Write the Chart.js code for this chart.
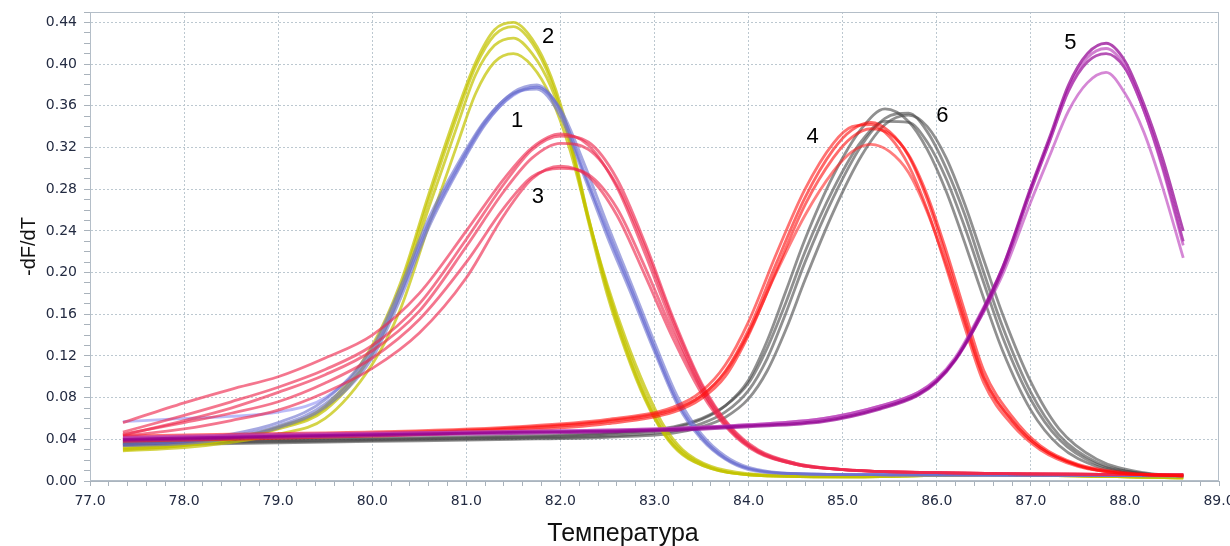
<!DOCTYPE html>
<html>
<head>
<meta charset="utf-8">
<title>-dF/dT</title>
<script src="https://cdn.jsdelivr.net/npm/chart.js@4.4.1/dist/chart.umd.min.js"></script>
<style>
  html, body { margin: 0; padding: 0; background: #fff; }
  #wrap { width: 1230px; height: 546px; }
</style>
</head>
<body>
<div id="wrap"><canvas id="meltChart" width="1230" height="546"></canvas></div>
<script>
// ----------- данные -----------
const xTitle = 'Температура';
const yTitle = '-dF/dT';

// подписи пиков 1..6
const peakNames = ['1', '2', '3', '4', '5', '6'];
const peakNameT = [81.54, 81.87, 81.76, 84.68, 87.42, 86.06];
const peakNameV = [0.345, 0.426, 0.273, 0.330, 0.420, 0.350];

// группа 2 (жёлтая)
const tempYellow = [77.35, 78.0, 78.5, 79.0, 79.5, 80.0, 80.3, 80.6, 80.9, 81.1, 81.3, 81.5, 81.7, 81.9, 82.1, 82.3, 82.5, 82.7, 82.9, 83.1, 83.3, 83.6, 84.0, 85.0, 86.5, 88.62];
const yellow1 = [0.032, 0.035, 0.041, 0.052, 0.072, 0.130, 0.190, 0.275, 0.355, 0.402, 0.433, 0.440, 0.424, 0.388, 0.330, 0.252, 0.182, 0.126, 0.080, 0.046, 0.026, 0.012, 0.006, 0.004, 0.006, 0.003];
const yellow2 = [0.030, 0.034, 0.040, 0.051, 0.070, 0.126, 0.186, 0.270, 0.350, 0.398, 0.428, 0.436, 0.420, 0.384, 0.326, 0.248, 0.178, 0.123, 0.078, 0.045, 0.025, 0.012, 0.006, 0.004, 0.006, 0.003];
const yellow3 = [0.031, 0.034, 0.040, 0.050, 0.068, 0.122, 0.180, 0.262, 0.340, 0.390, 0.418, 0.425, 0.410, 0.378, 0.325, 0.252, 0.185, 0.130, 0.084, 0.049, 0.028, 0.013, 0.006, 0.004, 0.006, 0.003];
const yellow4 = [0.029, 0.032, 0.037, 0.045, 0.060, 0.112, 0.165, 0.245, 0.322, 0.372, 0.402, 0.410, 0.398, 0.368, 0.318, 0.250, 0.188, 0.135, 0.090, 0.053, 0.030, 0.014, 0.007, 0.004, 0.006, 0.003];

// группа 1 (синяя)
const tempBlue = [77.35, 78.0, 78.5, 79.0, 79.5, 80.0, 80.3, 80.6, 80.9, 81.2, 81.5, 81.75, 82.0, 82.25, 82.5, 82.75, 83.0, 83.25, 83.5, 83.75, 84.0, 84.5, 85.5, 88.62];
const blue1 = [0.036, 0.038, 0.043, 0.053, 0.074, 0.122, 0.180, 0.248, 0.300, 0.345, 0.373, 0.380, 0.355, 0.296, 0.240, 0.185, 0.128, 0.075, 0.042, 0.022, 0.012, 0.007, 0.006, 0.005];
const blue2 = [0.034, 0.036, 0.041, 0.051, 0.071, 0.118, 0.175, 0.243, 0.296, 0.342, 0.371, 0.378, 0.357, 0.305, 0.246, 0.190, 0.133, 0.080, 0.045, 0.024, 0.013, 0.007, 0.006, 0.005];
const blue3 = [0.038, 0.040, 0.045, 0.056, 0.078, 0.128, 0.186, 0.252, 0.303, 0.346, 0.372, 0.376, 0.350, 0.293, 0.234, 0.180, 0.124, 0.072, 0.040, 0.021, 0.011, 0.007, 0.006, 0.005];
const blue4 = [0.057, 0.060, 0.062, 0.066, 0.080, 0.124, 0.180, 0.246, 0.298, 0.343, 0.370, 0.378, 0.354, 0.298, 0.238, 0.184, 0.127, 0.075, 0.042, 0.022, 0.012, 0.007, 0.006, 0.005];

// группа 3 (розовая)
const tempPink = [77.35, 78.0, 78.5, 79.0, 79.5, 80.0, 80.5, 81.0, 81.4, 81.7, 82.0, 82.3, 82.6, 82.9, 83.2, 83.5, 83.8, 84.1, 84.5, 85.0, 86.0, 88.62];
const pink1 = [0.056, 0.075, 0.088, 0.100, 0.118, 0.140, 0.180, 0.240, 0.290, 0.320, 0.333, 0.322, 0.282, 0.218, 0.148, 0.088, 0.049, 0.028, 0.016, 0.011, 0.008, 0.006];
const pink2 = [0.047, 0.063, 0.076, 0.090, 0.107, 0.130, 0.170, 0.232, 0.285, 0.318, 0.331, 0.325, 0.290, 0.228, 0.156, 0.094, 0.053, 0.030, 0.017, 0.011, 0.008, 0.006];
const pink3 = [0.044, 0.058, 0.070, 0.085, 0.102, 0.125, 0.163, 0.225, 0.278, 0.310, 0.324, 0.318, 0.284, 0.224, 0.153, 0.092, 0.052, 0.029, 0.017, 0.011, 0.008, 0.006];
const pink4 = [0.043, 0.050, 0.058, 0.068, 0.085, 0.108, 0.142, 0.195, 0.255, 0.290, 0.302, 0.292, 0.255, 0.197, 0.136, 0.084, 0.048, 0.027, 0.016, 0.011, 0.008, 0.006];
const pink5 = [0.045, 0.056, 0.065, 0.076, 0.094, 0.118, 0.155, 0.210, 0.262, 0.292, 0.300, 0.294, 0.262, 0.205, 0.142, 0.088, 0.050, 0.028, 0.016, 0.011, 0.008, 0.006];

// группа 4 (красная)
const tempRed = [77.35, 78.5, 80.0, 81.5, 82.5, 83.2, 83.5, 83.75, 84.0, 84.3, 84.6, 84.9, 85.1, 85.3, 85.5, 85.7, 85.9, 86.1, 86.3, 86.5, 86.8, 87.1, 87.5, 88.0, 88.62];
const red1 = [0.040, 0.042, 0.045, 0.050, 0.057, 0.068, 0.082, 0.105, 0.145, 0.210, 0.272, 0.318, 0.337, 0.344, 0.335, 0.312, 0.270, 0.215, 0.155, 0.100, 0.058, 0.032, 0.015, 0.007, 0.005];
const red2 = [0.043, 0.045, 0.047, 0.052, 0.059, 0.071, 0.086, 0.111, 0.153, 0.219, 0.280, 0.324, 0.340, 0.342, 0.330, 0.303, 0.260, 0.205, 0.147, 0.094, 0.054, 0.030, 0.014, 0.007, 0.005];
const red3 = [0.038, 0.040, 0.043, 0.048, 0.055, 0.066, 0.079, 0.100, 0.140, 0.203, 0.265, 0.310, 0.330, 0.338, 0.333, 0.313, 0.274, 0.221, 0.162, 0.106, 0.062, 0.034, 0.016, 0.008, 0.005];
const red4 = [0.041, 0.043, 0.046, 0.051, 0.058, 0.069, 0.082, 0.104, 0.142, 0.201, 0.255, 0.297, 0.316, 0.323, 0.316, 0.296, 0.258, 0.208, 0.152, 0.099, 0.058, 0.032, 0.015, 0.007, 0.005];

// группа 6 (серая)
const tempGray = [77.35, 78.5, 80.0, 81.5, 82.5, 83.2, 83.5, 83.75, 84.0, 84.2, 84.4, 84.6, 84.9, 85.2, 85.45, 85.7, 85.9, 86.1, 86.3, 86.5, 86.7, 87.0, 87.3, 87.7, 88.2, 88.62];
const gray1 = [0.036, 0.038, 0.040, 0.042, 0.045, 0.051, 0.059, 0.072, 0.097, 0.135, 0.183, 0.232, 0.293, 0.338, 0.357, 0.345, 0.318, 0.278, 0.228, 0.175, 0.125, 0.068, 0.034, 0.014, 0.006, 0.005];
const gray2 = [0.035, 0.037, 0.039, 0.041, 0.043, 0.048, 0.055, 0.066, 0.087, 0.118, 0.162, 0.210, 0.272, 0.322, 0.348, 0.353, 0.335, 0.300, 0.255, 0.200, 0.148, 0.085, 0.044, 0.018, 0.007, 0.005];
const gray3 = [0.034, 0.036, 0.038, 0.040, 0.042, 0.046, 0.052, 0.061, 0.079, 0.106, 0.146, 0.193, 0.258, 0.312, 0.342, 0.351, 0.340, 0.310, 0.265, 0.212, 0.160, 0.095, 0.050, 0.021, 0.008, 0.005];
const gray4 = [0.037, 0.039, 0.041, 0.043, 0.046, 0.052, 0.060, 0.072, 0.094, 0.128, 0.172, 0.220, 0.280, 0.326, 0.345, 0.344, 0.325, 0.290, 0.243, 0.190, 0.138, 0.078, 0.040, 0.016, 0.007, 0.005];

// группа 5 (фиолетовая)
const tempPurple = [77.35, 79.0, 81.0, 83.0, 84.0, 84.8, 85.4, 85.8, 86.0, 86.2, 86.4, 86.7, 87.0, 87.2, 87.4, 87.6, 87.8, 88.0, 88.2, 88.4, 88.62];
const purple1 = [0.040, 0.043, 0.046, 0.049, 0.053, 0.058, 0.070, 0.083, 0.096, 0.117, 0.148, 0.205, 0.282, 0.330, 0.380, 0.410, 0.420, 0.403, 0.362, 0.310, 0.240];
const purple2 = [0.042, 0.045, 0.047, 0.050, 0.054, 0.060, 0.072, 0.085, 0.098, 0.119, 0.150, 0.205, 0.280, 0.327, 0.376, 0.406, 0.415, 0.398, 0.356, 0.300, 0.226];
const purple3 = [0.039, 0.042, 0.045, 0.048, 0.052, 0.057, 0.069, 0.082, 0.095, 0.116, 0.146, 0.202, 0.278, 0.326, 0.374, 0.402, 0.410, 0.396, 0.356, 0.302, 0.230];
const purple4 = [0.041, 0.044, 0.047, 0.050, 0.054, 0.060, 0.072, 0.085, 0.097, 0.117, 0.146, 0.198, 0.268, 0.312, 0.355, 0.382, 0.392, 0.372, 0.335, 0.282, 0.214];

// ----------- вспомогательные функции -----------
function curve(temps, values, color) {
    return {
        data: temps.map((t, i) => ({ x: t, y: values[i] })),
        borderColor: color,
        borderWidth: 2.8,
        pointRadius: 0,
        fill: false,
        cubicInterpolationMode: 'monotone'
    };
}

const isWhole = v => Math.abs(v - Math.round(v)) < 1e-6;
const isMajorY = v => Math.round(v * 100) % 4 === 0;

// рамка, номера пиков и подпись оси X
const extras = {
    id: 'extras',
    beforeDatasetsDraw(chart) {
        const { ctx, chartArea: a } = chart;
        ctx.save();
        ctx.strokeStyle = '#b4bec8';
        ctx.lineWidth = 1;
        ctx.strokeRect(a.left + 0.5, a.top + 0.5, a.right - a.left - 1, a.bottom - a.top - 1);
        ctx.restore();
    },
    afterDatasetsDraw(chart) {
        const { ctx, scales: { x, y } } = chart;
        ctx.save();
        ctx.fillStyle = '#000';
        ctx.textAlign = 'center';
        ctx.textBaseline = 'middle';
        ctx.font = '22px "Liberation Sans", Arial, sans-serif';
        peakNames.forEach((name, i) => {
            ctx.fillText(name, x.getPixelForValue(peakNameT[i]), y.getPixelForValue(peakNameV[i]));
        });
        ctx.font = '25px "Liberation Sans", Arial, sans-serif';
        ctx.fillStyle = '#111';
        ctx.fillText(xTitle, 623, 534);
        ctx.restore();
    }
};

// первый набор рисуется поверх остальных
const datasets = [
    curve(tempPurple, purple1, 'rgba(145,0,145,0.72)'),
    curve(tempPurple, purple2, 'rgba(185,60,185,0.65)'),
    curve(tempPurple, purple3, 'rgba(150,10,150,0.7)'),
    curve(tempPurple, purple4, 'rgba(190,70,190,0.65)'),
    curve(tempRed, red1, 'rgba(255,10,10,0.62)'),
    curve(tempRed, red2, 'rgba(255,20,20,0.6)'),
    curve(tempRed, red3, 'rgba(255,10,10,0.6)'),
    curve(tempRed, red4, 'rgba(255,40,40,0.6)'),
    curve(tempPink, pink1, 'rgba(238,40,78,0.64)'),
    curve(tempPink, pink2, 'rgba(238,40,78,0.64)'),
    curve(tempPink, pink3, 'rgba(238,40,78,0.64)'),
    curve(tempPink, pink4, 'rgba(238,40,78,0.64)'),
    curve(tempPink, pink5, 'rgba(238,40,78,0.64)'),
    curve(tempBlue, blue1, 'rgba(105,110,205,0.6)'),
    curve(tempBlue, blue2, 'rgba(105,110,205,0.6)'),
    curve(tempBlue, blue3, 'rgba(105,110,205,0.6)'),
    curve(tempBlue, blue4, 'rgba(150,150,245,0.65)'),
    curve(tempYellow, yellow1, 'rgba(196,196,0,0.72)'),
    curve(tempYellow, yellow2, 'rgba(196,196,0,0.72)'),
    curve(tempYellow, yellow3, 'rgba(196,196,0,0.72)'),
    curve(tempYellow, yellow4, 'rgba(196,196,0,0.72)'),
    curve(tempGray, gray1, 'rgba(70,70,70,0.6)'),
    curve(tempGray, gray2, 'rgba(70,70,70,0.6)'),
    curve(tempGray, gray3, 'rgba(70,70,70,0.6)'),
    curve(tempGray, gray4, 'rgba(70,70,70,0.6)')
];

const tickFont = { family: '"DejaVu Sans", Verdana, sans-serif', size: 14 };

new Chart(document.getElementById('meltChart'), {
    type: 'line',
    data: { datasets: datasets },
    options: {
        responsive: false,
        animation: false,
        devicePixelRatio: 1,
        layout: { padding: { top: 12, right: 11, left: 0, bottom: 0 } },
        plugins: { legend: { display: false }, tooltip: { enabled: false } },
        scales: {
            x: {
                type: 'linear',
                min: 77,
                max: 89,
                ticks: {
                    stepSize: 0.2,
                    autoSkip: false,
                    maxRotation: 0,
                    minRotation: 0,
                    padding: 7,
                    color: '#232b42',
                    font: tickFont,
                    callback: v => isWhole(v) ? v.toFixed(1) : ''
                },
                grid: {
                    color: c => (isWhole(c.tick.value) && c.tick.value > 77 && c.tick.value < 89) ? '#bcc8d0' : 'rgba(0,0,0,0)',
                    tickColor: '#a9b2bb',
                    tickLength: 5,
                    lineWidth: 1
                },
                border: { color: '#aab4be', dash: [2, 2] },
                afterFit: s => { s.height = 65; s.paddingLeft = 0; s.paddingRight = 0; }
            },
            y: {
                min: 0,
                max: 0.45,
                ticks: {
                    stepSize: 0.01,
                    autoSkip: false,
                    padding: 7,
                    color: '#232b42',
                    font: tickFont,
                    callback: v => isMajorY(v) ? v.toFixed(2) : ''
                },
                grid: {
                    color: c => (isMajorY(c.tick.value) && c.tick.value > 0) ? '#bcc8d0' : 'rgba(0,0,0,0)',
                    tickColor: '#a9b2bb',
                    tickLength: 6,
                    lineWidth: 1
                },
                border: { color: '#aab4be', dash: [2, 2] },
                title: {
                    display: true,
                    text: yTitle,
                    color: '#111',
                    font: { family: '"Liberation Sans", Arial, sans-serif', size: 20 },
                    padding: { top: 17, bottom: 0 }
                },
                afterFit: s => { s.width = 90; s.paddingTop = 0; s.paddingBottom = 0; }
            }
        }
    },
    plugins: [extras]
});
</script>
</body>
</html>
